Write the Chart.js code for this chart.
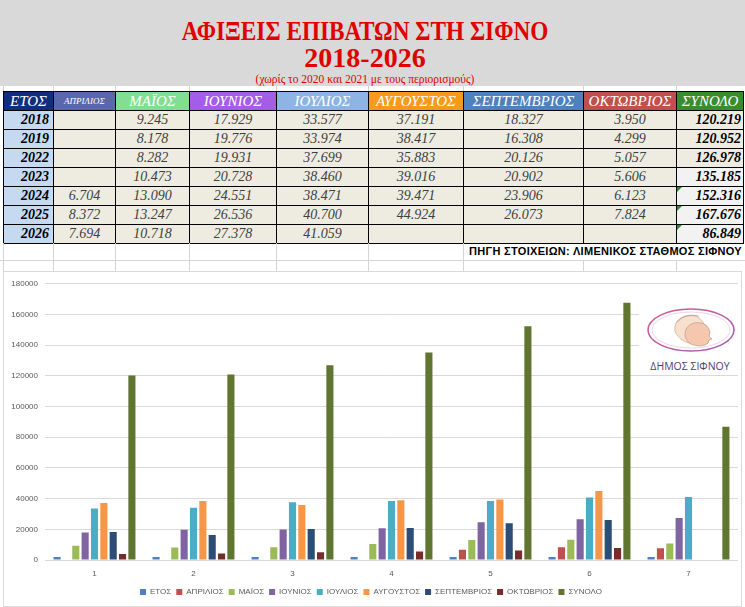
<!DOCTYPE html>
<html lang="el">
<head>
<meta charset="utf-8">
<title>Αφίξεις επιβατών στη Σίφνο 2018-2026</title>
<script src="https://cdn.jsdelivr.net/npm/chart.js@4.4.1/dist/chart.umd.min.js"></script>
<style>
html, body { margin: 0; padding: 0; }
body { width: 745px; height: 607px; overflow: hidden; position: relative; background: #fff; font-family: "Liberation Serif", serif; }
#cabecera { position: absolute; left: 0; top: 0; width: 745px; height: 86px; background: #D9D9D9; }
.titulo { position: absolute; left: 0; width: 730px; text-align: center; color: #E00000; font-weight: bold; white-space: nowrap; }
#t1 { top: 16px; font-size: 28px; line-height: 30px; transform: scaleX(0.83); transform-origin: 365px 0; }
#t2 { top: 43px; font-size: 28px; line-height: 30px; }
#t3 { top: 73px; font-size: 11.5px; line-height: 12px; font-weight: normal; }
#tabla { position: absolute; left: 3px; top: 91px; border-collapse: collapse; table-layout: fixed; width: 740px; }
#tabla td, #tabla th { border: 1px solid #000; padding: 0; height: 18px; line-height: 18px; font-style: italic; white-space: nowrap; overflow: hidden; }
#tabla th { color: #fff; font-weight: normal; font-size: 15px; text-align: center; }
#tabla th.chico { font-size: 9px; }
#tabla td { background: #EEECE1; color: #404040; font-size: 14px; text-align: center; }
#tabla td.anio { background: #C5D9F1; color: #000; font-weight: bold; text-align: right; padding-right: 4px; }
#tabla td.total { color: #000; font-weight: bold; text-align: right; padding-right: 2px; position: relative; }
#tabla td.claro { background: #F2F2F2; }
#tabla td.marca::before { content: ""; position: absolute; left: 0; top: 0; border-top: 5px solid #2E8B2E; border-right: 5px solid transparent; }
.rejilla { position: absolute; background: #D4D4D4; }
#fuente { position: absolute; right: 3px; top: 245px; font: bold 11px "Liberation Sans", sans-serif; letter-spacing: 0.3px; color: #000; white-space: nowrap; }
#marco { position: absolute; left: 3px; top: 271px; width: 737px; height: 334px; border: 1px solid #D9D9D9; background: #fff; }
#logo { position: absolute; left: 635px; top: 20px; width: 101px; height: 80px; background: #fff; }
</style>
</head>
<body>
<div id="cabecera">
  <div class="titulo" id="t1">ΑΦΙΞΕΙΣ ΕΠΙΒΑΤΩΝ ΣΤΗ ΣΙΦΝΟ</div>
  <div class="titulo" id="t2">2018-2026</div>
  <div class="titulo" id="t3">(χωρίς το 2020 και 2021 με τους περιορισμούς)</div>
</div>
<table id="tabla"></table>
<div id="fuente">ΠΗΓΗ ΣΤΟΙΧΕΙΩΝ: ΛΙΜΕΝΙΚΟΣ ΣΤΑΘΜΟΣ ΣΙΦΝΟΥ</div>
<div id="marco">
  <canvas id="grafico" width="737" height="334"></canvas>
  <div id="logo">
    <svg width="101" height="80" viewBox="0 0 101 80">
      <defs>
        <linearGradient id="borde" x1="0" x2="1" y1="0" y2="1">
          <stop offset="0" stop-color="#D65C8E"/>
          <stop offset="1" stop-color="#9C5DB8"/>
        </linearGradient>
      </defs>
      <ellipse cx="52" cy="38" rx="43" ry="21" fill="#fff" stroke="url(#borde)" stroke-width="1.6"/>
      <ellipse cx="52" cy="38" rx="39" ry="18" fill="none" stroke="#EBC9DA" stroke-width="0.8"/>
      <path d="M36 40 q-2 -12 10 -16 q12 -3 18 6 q3 5 1 9 l3 4 l-3 1 q1 4 -3 6 q-4 3 -12 1 q-9 -2 -14 -11 z" fill="#F8E0CF" stroke="#C8A08C" stroke-width="0.6"/>
      <path d="M46 44 q-1 -10 9 -13 q11 -2 15 6 q2 4 0 7 l3 3 l-3 1 q0 4 -4 5 q-5 2 -12 0 q-6 -2 -8 -9 z" fill="#F5C7AE" stroke="#B98E7A" stroke-width="0.6"/>
      <path d="M38 30 q8 -9 22 -6" fill="none" stroke="#A99A9A" stroke-width="0.8"/>
      <text x="51" y="78" text-anchor="middle" font-family="Open Sans" font-size="10.5" fill="#4B3F72">ΔΗΜΟΣ ΣΙΦΝΟΥ</text>
    </svg>
  </div>
</div>
<script>
// Datos de la tabla (pasajeros por mes)
const etiquetas = ['1', '2', '3', '4', '5', '6', '7'];
const series = ['ΕΤΟΣ', 'ΑΠΡΙΛΙΟΣ', 'ΜΑΪΟΣ', 'ΙΟΥΝΙΟΣ', 'ΙΟΥΛΙΟΣ', 'ΑΥΓΟΥΣΤΟΣ', 'ΣΕΠΤΕΜΒΡΙΟΣ', 'ΟΚΤΩΒΡΙΟΣ', 'ΣΥΝΟΛΟ'];
const anios = [2018, 2019, 2022, 2023, 2024, 2025, 2026];
const abril = [null, null, null, null, 6704, 8372, 7694];
const mayo = [9245, 8178, 8282, 10473, 13090, 13247, 10718];
const junio = [17929, 19776, 19931, 20728, 24551, 26536, 27378];
const julio = [33577, 33974, 37699, 38460, 38471, 40700, 41059];
const agosto = [37191, 38417, 35883, 39016, 39471, 44924, null];
const septiembre = [18327, 16308, 20126, 20902, 23906, 26073, null];
const octubre = [3950, 4299, 5057, 5606, 6123, 7824, null];
const totales = [120219, 120952, 126978, 135185, 152316, 167676, 86849];
const marcasY = [0, 20000, 40000, 60000, 80000, 100000, 120000, 140000, 160000, 180000];

// Estilos
const coloresCabecera = ['#0F2E7C', '#5A67AA', '#80DF92', '#A35DE6', '#8DB4E2', '#F79A1A', '#4F81BD', '#C0504D', '#3A8C2F'];
const coloresBarras = ['#4F81BD', '#C0504D', '#9BBB59', '#8064A2', '#4BACC6', '#F79646', '#2C4D75', '#772C2A', '#5F7530'];
const anchos = [50, 62, 74, 87, 92, 95, 120, 93, 67];

const columnas = [anios, abril, mayo, junio, julio, agosto, septiembre, octubre, totales];

function formato(v) {
    if (v === null) return '';
    return String(v).replace(/\B(?=(\d{3})+(?!\d))/g, '.');
}

// Construir la tabla
const tabla = document.getElementById('tabla');
let html = '<colgroup>' + anchos.map(a => `<col style="width:${a}px">`).join('') + '</colgroup>';
html += '<tr>' + series.map((s, i) =>
    `<th class="${i === 1 ? 'chico' : ''}" style="background:${coloresCabecera[i]}">${s}</th>`).join('') + '</tr>';
anios.forEach((a, f) => {
    html += '<tr>';
    columnas.forEach((col, c) => {
        let clase = '';
        let texto = formato(col[f]);
        if (c === 0) { clase = 'anio'; texto = String(a); }
        if (c === 8) clase = 'total' + (f >= 3 ? ' claro' : '') + (f >= 4 ? ' marca' : '');
        html += `<td class="${clase}">${texto}</td>`;
    });
    html += '</tr>';
});
tabla.innerHTML = html;

// Rejilla gris de la hoja debajo de la tabla
let x = 3;
const lineasX = [3];
anchos.forEach(a => { x += a; lineasX.push(x); });
lineasX.forEach((lx, i) => {
    if (i === lineasX.length - 1) return;
    const d = document.createElement('div');
    d.className = 'rejilla';
    const empieza = (i >= 7) ? 260 : 243;
    d.style.cssText = `left:${lx}px;top:${empieza}px;width:1px;height:${271 - empieza}px`;
    document.body.appendChild(d);
    const e = document.createElement('div');
    e.className = 'rejilla';
    e.style.cssText = `left:${lx}px;top:86px;width:1px;height:5px`;
    document.body.appendChild(e);
});
const h = document.createElement('div');
h.className = 'rejilla';
h.style.cssText = 'left:0;top:260px;width:745px;height:1px';
document.body.appendChild(h);

// Gráfico de barras
const datosSeries = [anios, abril, mayo, junio, julio, agosto, septiembre, octubre, totales];
const ctx = document.getElementById('grafico').getContext('2d');
const grafico = new Chart(ctx, {
    type: 'bar',
    data: {
        labels: etiquetas,
        datasets: series.map((s, i) => ({
            label: s,
            data: datosSeries[i],
            backgroundColor: coloresBarras[i],
            borderWidth: 0,
            categoryPercentage: 0.85,
            barPercentage: 0.76
        }))
    },
    options: {
        responsive: false,
        animation: false,
        layout: { padding: { top: 8, right: 3, left: 0, bottom: 0 } },
        scales: {
            x: {
                afterFit: axis => { axis.height = 23; },
                grid: { display: false, drawTicks: false },
                border: { display: false },
                ticks: { color: '#595959', font: { family: 'Liberation Sans', size: 8 }, padding: 9 }
            },
            y: {
                min: 0,
                max: 180000,
                afterBuildTicks: axis => { axis.ticks = marcasY.map(v => ({ value: v })); },
                afterFit: axis => { axis.width = 41; },
                grid: { color: '#D9D9D9', drawTicks: false },
                border: { display: false },
                ticks: {
                    color: '#595959',
                    font: { family: 'Liberation Sans', size: 8 },
                    padding: 7,
                    callback: v => String(v)
                }
            }
        },
        plugins: {
            legend: {
                display: true,
                position: 'bottom',
                labels: { boxWidth: 6, boxHeight: 6, padding: 5, color: '#595959', font: { family: 'Liberation Sans', size: 8 } }
            },
            tooltip: { enabled: false }
        }
    }
});
</script>
</body>
</html>
